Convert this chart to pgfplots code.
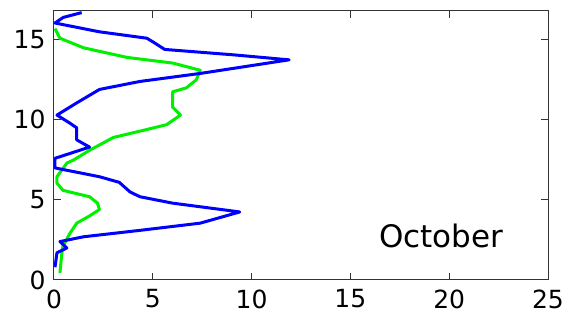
\documentclass[border=0pt]{standalone}
\usepackage{pgfplots}
\pgfplotsset{compat=1.18}
\usepackage{fontspec}
\setmainfont{DejaVu Sans}
\definecolor{bl}{RGB}{0,0,255}
\definecolor{gr}{RGB}{0,240,0}
\begin{document}
\begin{tikzpicture}
\useasboundingbox (-54pt,-41pt) rectangle (514pt,280pt);
\begin{axis}[
  at={(0pt,0pt)}, anchor=south west,
  scale only axis,
  width=494pt, height=269pt,
  xmin=0, xmax=25, ymin=0, ymax=16.8,
  xtick={0,5,...,25}, ytick={0,5,10,15},
  tick align=inside,
  major tick length=7pt,
  axis line style={black!80, line width=1pt},
  tick style={black!80, line width=1pt},
  ticklabel style={font=\fontsize{25}{27}\selectfont},
  /pgf/number format/assume math mode=true,
  xticklabel style={yshift=-6pt},
  yticklabel style={xshift=-5pt},
]
\addplot[gr, line width=3pt, line join=round] coordinates {
(0.05,15.7) (0.3,15.1) (1.5,14.5) (3.7,13.9) (6.0,13.55) (7.4,13.1) (7.2,12.5)
(6.7,12.0) (6.0,11.75) (6.0,10.8) (6.4,10.3) (5.7,9.7) (4.7,9.4) (3.0,8.9)
(1.8,8.1) (1.0,7.5) (0.65,7.3) (0.15,6.45) (0.15,6.05) (0.45,5.6) (1.8,5.2)
(2.2,4.8) (2.3,4.4) (1.8,4.0) (1.15,3.55) (0.8,2.9) (0.45,2.1) (0.4,1.7) (0.3,0.45)
};
\addplot[bl, line width=3pt, line join=round] coordinates {
(1.4,16.7) (0.47,16.4) (0.05,16.05) (2.3,15.5) (4.7,15.1) (5.1,14.8) (5.6,14.4)
(9.1,14.06) (11.9,13.75) (7.4,12.9) (4.35,12.4) (2.3,11.9) (1.15,11.06) (0.15,10.3)
(0.8,9.8) (1.15,9.5) (1.15,8.75) (1.8,8.3) (0.05,7.6) (0.05,7.0) (2.3,6.45)
(3.3,6.1) (3.85,5.5) (4.35,5.2) (6.0,4.8) (9.4,4.25) (7.4,3.55) (4.35,3.1)
(1.5,2.7) (0.3,2.4) (0.65,2.0) (0.15,1.7) (0.05,0.8)
};
\node[font=\fontsize{31}{33}\selectfont] at (axis cs:19.6,2.75) {October};
\end{axis}
\end{tikzpicture}
\end{document}
